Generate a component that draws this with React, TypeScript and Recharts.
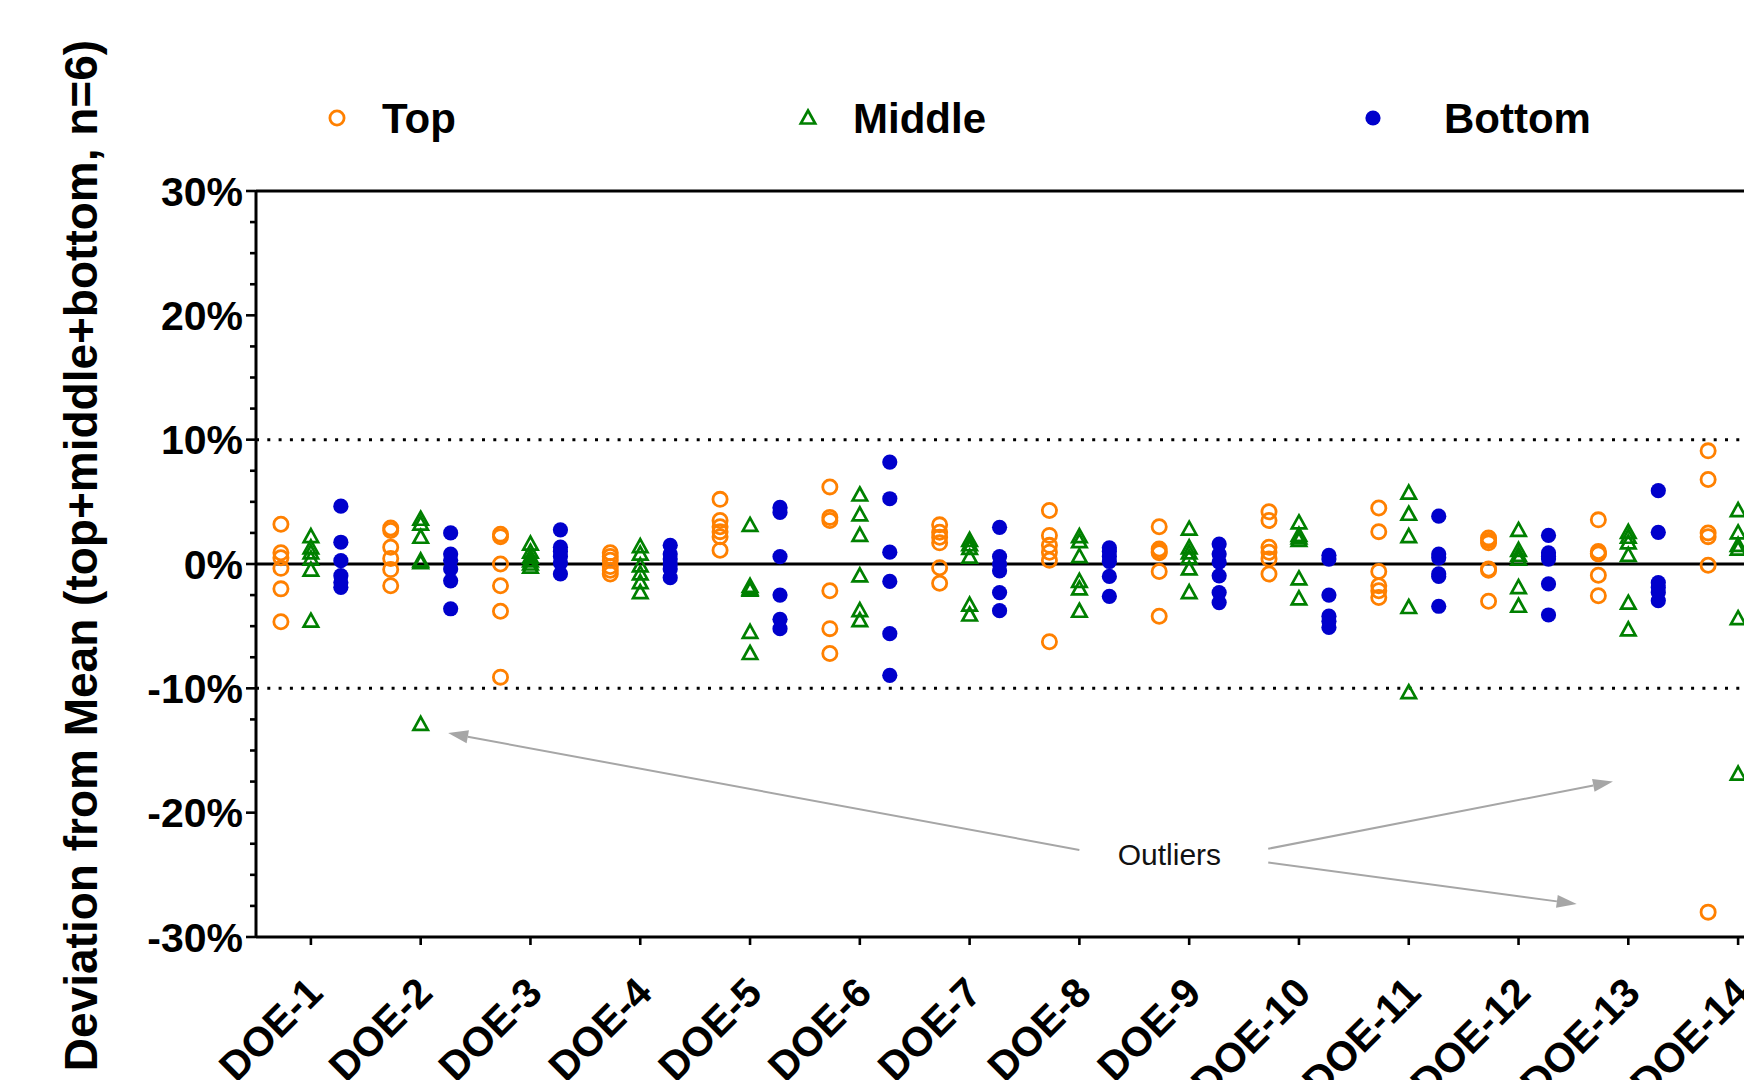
import { ScatterChart, Scatter, XAxis, YAxis, ReferenceLine, ReferenceDot, Legend } from 'recharts';

const categories = [
  'DOE-1', 'DOE-2', 'DOE-3', 'DOE-4', 'DOE-5', 'DOE-6', 'DOE-7',
  'DOE-8', 'DOE-9', 'DOE-10', 'DOE-11', 'DOE-12', 'DOE-13', 'DOE-14',
];

// deviation from mean, in %, one list per DOE
const topValues = [
  [3.2, 0.9, 0.5, -0.35, -2.0, -4.65],
  [2.9, 2.7, 1.35, 0.45, -0.45, -1.75],
  [2.4, 2.2, 0.0, -1.75, -3.8, -9.1],
  [0.9, 0.6, 0.3, -0.2, -0.5, -0.8],
  [5.2, 3.5, 3.0, 2.6, 2.2, 1.1],
  [6.2, 3.75, 3.5, -2.15, -5.2, -7.2],
  [3.15, 2.55, 2.15, 1.7, -0.3, -1.55],
  [4.3, 2.3, 1.5, 0.95, 0.3, -6.25],
  [3.0, 1.2, 1.0, 0.9, -0.6, -4.2],
  [4.2, 3.5, 1.35, 0.95, 0.4, -0.8],
  [4.5, 2.6, -0.6, -1.75, -2.15, -2.7],
  [2.1, 1.9, 1.7, -0.4, -0.5, -3.0],
  [3.55, 1.0, 0.85, 0.8, -0.9, -2.55],
  [9.1, 6.8, 2.5, 2.2, -0.1, -28.0],
];

const middleValues = [
  [2.2, 1.3, 0.9, 0.4, -0.5, -4.6],
  [3.6, 3.2, 2.15, 0.25, 0.1, -12.9],
  [1.6, 0.95, 0.55, 0.25, 0.0, -0.25],
  [1.4, 0.8, -0.15, -0.8, -1.5, -2.3],
  [3.1, -1.8, -2.0, -2.1, -5.5, -7.2],
  [5.55, 3.95, 2.3, -0.95, -3.75, -4.55],
  [1.9, 1.55, 1.25, 0.55, -3.3, -4.1],
  [2.2, 1.8, 0.6, -1.4, -2.0, -3.8],
  [2.8, 1.3, 0.9, 0.5, -0.4, -2.3],
  [3.3, 2.3, 2.1, 1.9, -1.2, -2.8],
  [5.7, 4.0, 2.2, -3.5, -10.35],
  [2.7, 1.1, 0.7, 0.4, -1.9, -3.4],
  [2.55, 2.15, 1.7, 0.7, -3.15, -5.3],
  [4.3, 2.5, 1.5, 1.2, -4.4, -16.9],
];

const bottomValues = [
  [4.65, 1.75, 0.27, -0.94, -1.48, -1.88],
  [2.5, 0.8, 0.3, -0.4, -1.35, -3.6],
  [2.75, 1.35, 1.0, 0.6, 0.1, -0.8],
  [1.5, 0.8, 0.4, 0.0, -0.4, -1.1],
  [4.55, 4.15, 0.6, -2.5, -4.45, -5.2],
  [8.2, 5.25, 0.95, -1.4, -5.6, -8.95],
  [2.95, 0.6, 0.0, -0.55, -2.3, -3.75],
  [1.3, 1.0, 0.6, 0.2, -1.0, -2.6],
  [1.6, 0.8, 0.15, -0.95, -2.3, -3.1],
  [0.7, 0.4, -2.5, -4.2, -4.6, -5.1],
  [3.85, 0.8, 0.5, -0.8, -1.0, -3.4],
  [2.3, 0.9, 0.6, 0.4, -1.6, -4.1],
  [5.9, 2.55, -1.5, -1.9, -2.3, -2.95],
  [],
];

const seriesNames = ['Top', 'Middle', 'Bottom'];

const yTicks = [
  -30, -27.5, -25, -22.5, -20, -17.5, -15, -12.5, -10, -7.5, -5, -2.5,
  0, 2.5, 5, 7.5, 10, 12.5, 15, 17.5, 20, 22.5, 25, 27.5, 30,
];
const xTicks = categories.map((_, i) => i + 1);

// annotation arrows, in data units (category position, %)
const outlierArrows = [
  { x1: 8.0, y1: -23.0, x2: 2.25, y2: -13.6 },
  { x1: 9.72, y1: -22.9, x2: 12.86, y2: -17.5 },
  { x1: 9.72, y1: -24.0, x2: 12.53, y2: -27.35 },
];
const outlierNote = { x: 8.82, y: -23.37, text: 'Outliers' };

const ORANGE = '#FF8000';
const GREEN = '#008000';
const BLUE = '#0000CC';
const GREY = '#A6A6A6';
const FONT = '"Liberation Sans", Arial, Helvetica, sans-serif';
const DODGE = 0.273;

const toPoints = (values: number[][], shift: number) =>
  values.flatMap((vals, i) => vals.map((v) => ({ x: i + 1 + shift, y: v })));

const topData = toPoints(topValues, -DODGE);
const middleData = toPoints(middleValues, 0);
const bottomData = toPoints(bottomValues, DODGE);

const OpenCircle = ({ cx, cy }: any) => (
  <circle cx={cx} cy={cy} r={7.1} fill="none" stroke={ORANGE} strokeWidth={2.8} />
);

const OpenTriangle = ({ cx, cy }: any) => (
  <polygon
    points={`${cx},${cy - 7.5} ${cx + 7.2},${cy + 5.5} ${cx - 7.2},${cy + 5.5}`}
    fill="none"
    stroke={GREEN}
    strokeWidth={2.7}
    strokeLinejoin="miter"
  />
);

const SolidDot = ({ cx, cy }: any) => <circle cx={cx} cy={cy} r={7.6} fill={BLUE} />;

const YTick = ({ x, y, payload }: any) => {
  const major = payload.value % 10 === 0;
  return (
    <g>
      <line x1={x} x2={x - (major ? 10 : 6)} y1={y} y2={y} stroke="#000" strokeWidth={2.6} />
      {major && (
        <text x={x - 13} y={y} dy={14.5} textAnchor="end" fontFamily={FONT} fontSize={41} fontWeight="bold" fill="#000">
          {payload.value}%
        </text>
      )}
    </g>
  );
};

const XTick = ({ x, y, payload }: any) => (
  <text
    transform={`translate(${x + 14},${y + 50}) rotate(-45)`}
    textAnchor="end"
    fontFamily={FONT}
    fontSize={41}
    fontWeight="bold"
    fill="#000"
  >
    {categories[payload.value - 1]}
  </text>
);

const YLabel = () => (
  <text
    x={97}
    y={555.5}
    transform="rotate(-90, 97, 555.5)"
    textAnchor="middle"
    fontFamily={FONT}
    fontSize={46}
    fontWeight="bold"
    fill="#000"
  >
    Deviation from Mean (top+middle+bottom, n=6)
  </text>
);

const ArrowShape = ({ x1, y1, x2, y2 }: any) => {
  const ang = Math.atan2(y2 - y1, x2 - x1);
  const len = 20;
  const half = 6.5;
  const bx = x2 - len * Math.cos(ang);
  const by = y2 - len * Math.sin(ang);
  const px = -Math.sin(ang) * half;
  const py = Math.cos(ang) * half;
  return (
    <g>
      <line x1={x1} y1={y1} x2={bx} y2={by} stroke={GREY} strokeWidth={2} />
      <polygon points={`${x2},${y2} ${bx + px},${by + py} ${bx - px},${by - py}`} fill={GREY} />
    </g>
  );
};

const legendPos: Record<string, { mark: number; text: number }> = {
  Top: { mark: 337, text: 382 },
  Middle: { mark: 808, text: 853 },
  Bottom: { mark: 1373, text: 1444 },
};
const legendMarks: Record<string, any> = { Top: OpenCircle, Middle: OpenTriangle, Bottom: SolidDot };

const renderLegend = (props: any) => {
  const payload = props.payload || [];
  const names = seriesNames.filter((n) => payload.some((e: any) => e.value === n));
  return (
    <svg width={1744} height={160}>
      {names.map((name) => {
        const Mark = legendMarks[name];
        const pos = legendPos[name];
        return (
          <g key={name}>
            <Mark cx={pos.mark} cy={118} />
            <text x={pos.text} y={133} fontFamily={FONT} fontSize={42} fontWeight="bold" fill="#000">
              {name}
            </text>
          </g>
        );
      })}
    </svg>
  );
};

export default function App() {
  return (
    <div style={{ position: 'fixed', left: 0, top: 0, width: 1744, height: 1080, overflow: 'hidden', background: '#fff' }}>
      <ScatterChart width={1800} height={1080} margin={{ top: 191, right: 7, bottom: 0, left: 0 }}>
        <XAxis
          type="number"
          dataKey="x"
          domain={[0.5, 14.5]}
          ticks={xTicks}
          interval={0}
          allowDataOverflow
          height={143}
          tickSize={8}
          tickMargin={0}
          axisLine={{ stroke: '#000', strokeWidth: 3 }}
          tickLine={{ stroke: '#000', strokeWidth: 2.6 }}
          tick={<XTick />}
        />
        <XAxis
          xAxisId="top"
          orientation="top"
          mirror
          type="number"
          dataKey="x"
          domain={[0.5, 14.5]}
          ticks={xTicks}
          interval={0}
          allowDataOverflow
          height={30}
          tickSize={6}
          axisLine={{ stroke: '#000', strokeWidth: 3 }}
          tickLine={{ stroke: '#000', strokeWidth: 2.4 }}
          tick={false}
        />
        <YAxis
          type="number"
          dataKey="y"
          domain={[-30, 30]}
          ticks={yTicks}
          interval={0}
          allowDataOverflow
          width={256}
          tickSize={0}
          tickMargin={0}
          tickLine={false}
          axisLine={{ stroke: '#000', strokeWidth: 3 }}
          tick={<YTick />}
          label={<YLabel />}
        />
        <Legend verticalAlign="middle" align="center" content={renderLegend} wrapperStyle={{ top: 0, left: 0, width: 1744, height: 160 }} />
        <ReferenceLine y={10} stroke="#000" strokeWidth={3} strokeDasharray="3 8.3" />
        <ReferenceLine y={-10} stroke="#000" strokeWidth={3} strokeDasharray="3 8.3" />
        <ReferenceLine y={0} stroke="#000" strokeWidth={3} />
        {outlierArrows.map((a, i) => (
          <ReferenceLine
            key={i}
            segment={[{ x: a.x1, y: a.y1 }, { x: a.x2, y: a.y2 }]}
            shape={ArrowShape}
          />
        ))}
        <ReferenceDot
          x={outlierNote.x}
          y={outlierNote.y}
          r={0}
          shape={(p: any) => (
            <text x={p.cx} y={p.cy} dy={10.7} textAnchor="middle" fontFamily={FONT} fontSize={30} fill="#111">
              {outlierNote.text}
            </text>
          )}
        />
        <Scatter name="Top" data={topData} fill={ORANGE} shape={OpenCircle} isAnimationActive={false} />
        <Scatter name="Middle" data={middleData} fill={GREEN} shape={OpenTriangle} isAnimationActive={false} />
        <Scatter name="Bottom" data={bottomData} fill={BLUE} shape={SolidDot} isAnimationActive={false} />
      </ScatterChart>
    </div>
  );
}
